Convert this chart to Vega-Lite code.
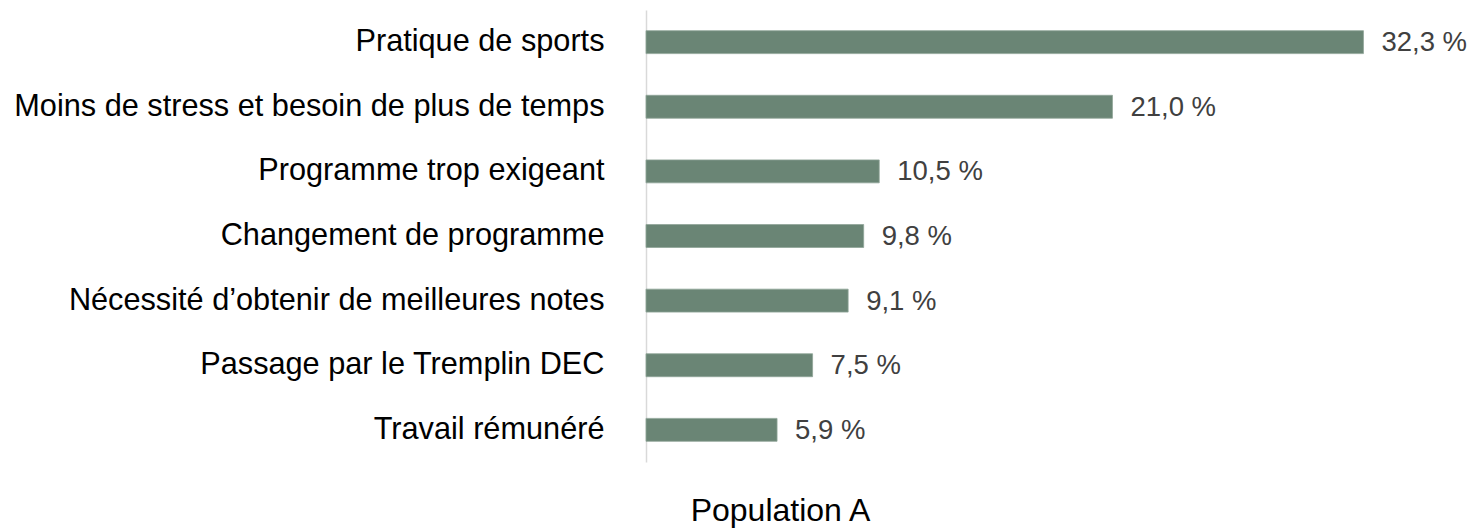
{
  "$schema": "https://vega.github.io/schema/vega-lite/v6.json",
  "autosize": "none",
  "width": 733,
  "height": 452,
  "padding": {"left": 646, "top": 10, "right": 101, "bottom": 66},
  "background": "white",
  "config": {
    "view": {"stroke": null},
    "font": "Liberation Sans"
  },
  "data": {
    "values": [
      {"cat": "Pratique de sports", "value": 32.3, "label": "32,3 %"},
      {"cat": "Moins de stress et besoin de plus de temps", "value": 21.0, "label": "21,0 %"},
      {"cat": "Programme trop exigeant", "value": 10.5, "label": "10,5 %"},
      {"cat": "Changement de programme", "value": 9.8, "label": "9,8 %"},
      {"cat": "Nécessité d’obtenir de meilleures notes", "value": 9.1, "label": "9,1 %"},
      {"cat": "Passage par le Tremplin DEC", "value": 7.5, "label": "7,5 %"},
      {"cat": "Travail rémunéré", "value": 5.9, "label": "5,9 %"}
    ]
  },
  "encoding": {
    "y": {
      "field": "cat",
      "type": "nominal",
      "sort": null,
      "scale": {"paddingInner": 0.645, "paddingOuter": 0.32},
      "axis": {
        "title": null,
        "ticks": false,
        "domainColor": "#d9d9d9",
        "domainWidth": 1.5,
        "labelFont": "Liberation Sans",
        "labelFontSize": 30.7,
        "labelColor": "#000000",
        "labelPadding": 42,
        "labelLimit": 700
      }
    },
    "x": {
      "field": "value",
      "type": "quantitative",
      "scale": {"domain": [0, 33]},
      "axis": {
        "title": "Population A",
        "titleFont": "Liberation Sans",
        "titleFontSize": 32,
        "titleFontWeight": "normal",
        "titleColor": "#000000",
        "titleX": 134,
        "titleY": 58,
        "titleBaseline": "alphabetic",
        "labels": false,
        "ticks": false,
        "domain": false,
        "grid": false
      }
    }
  },
  "layer": [
    {
      "mark": {"type": "bar", "color": "#6a8575", "stroke": "#8fa598", "strokeWidth": 0.8}
    },
    {
      "mark": {"type": "text", "align": "left", "baseline": "middle", "dx": 18, "dy": 1, "fontSize": 27.5, "color": "#404040", "font": "Liberation Sans"},
      "encoding": {"text": {"field": "label"}}
    }
  ]
}
